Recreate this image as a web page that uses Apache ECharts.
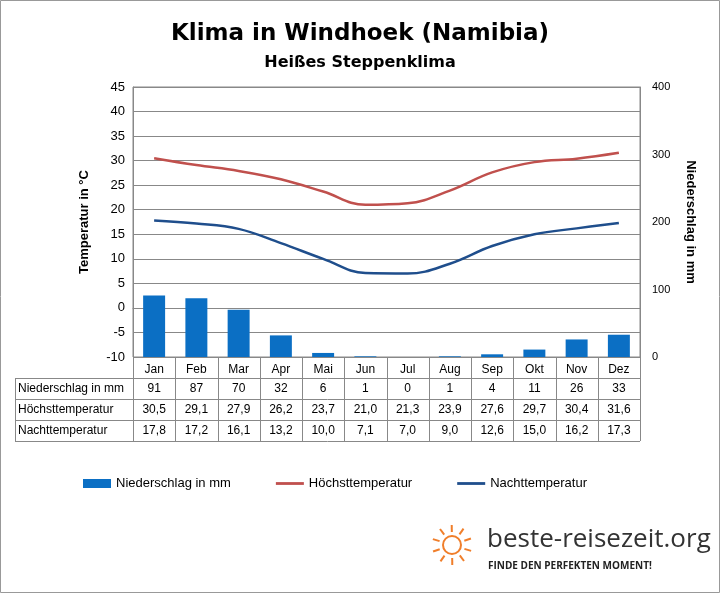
<!DOCTYPE html>
<html><head><meta charset="utf-8">
<script src="https://cdn.jsdelivr.net/npm/echarts@6/dist/echarts.min.js"></script>
<style>html,body{margin:0;padding:0;background:#fff}#c{width:720px;height:593px}</style>
</head><body><div id="c"></div>
<script>
const months=['Jan','Feb','Mar','Apr','Mai','Jun','Jul','Aug','Sep','Okt','Nov','Dez'];
const rain=[91,87,70,32,6,1,0,1,4,11,26,33];
const tmax=[30.5,29.1,27.9,26.2,23.7,21.0,21.3,23.9,27.6,29.7,30.4,31.6];
const tmin=[17.8,17.2,16.1,13.2,10.0,7.1,7.0,9.0,12.6,15.0,16.2,17.3];
const rowNames=['Niederschlag in mm','Höchsttemperatur','Nachttemperatur'];
const C_BAR='#0b6fc4',C_MAX='#c0504d',C_MIN='#1f4e8c';
const X0=133,X1=640,Y0=87,Y1=357;
const cw=(X1-X0)/12;
const g=[];
g.push({type:'rect',shape:{x:0.5,y:0.5,width:719,height:592},style:{fill:'none',stroke:'#999'}});
const rowsY=[378,399,420,441];
const rows=[rain.map(String),tmax.map(v=>v.toFixed(1).replace('.',',')),tmin.map(v=>v.toFixed(1).replace('.',','))];
rowsY.forEach(y=>g.push({type:'line',shape:{x1:15,y1:y+.5,x2:X1,y2:y+.5},style:{stroke:'#888'}}));
g.push({type:'line',shape:{x1:15.5,y1:378,x2:15.5,y2:441},style:{stroke:'#888'}});
for(let i=0;i<=12;i++){const x=Math.round(X0+i*cw)+.5;g.push({type:'line',shape:{x1:x,y1:357,x2:x,y2:441},style:{stroke:'#888'}});}
rows.forEach((r,ri)=>{
 const yc=(rowsY[ri]+rowsY[ri+1])/2;
 g.push({type:'text',x:18,y:yc,style:{text:rowNames[ri],fill:'#000',font:'12px "Liberation Sans", Arial',textVerticalAlign:'middle'}});
 r.forEach((t,i)=>g.push({type:'text',x:X0+(i+.5)*cw,y:yc,style:{text:t,fill:'#000',font:'12px "Liberation Sans", Arial',textAlign:'center',textVerticalAlign:'middle'}}));
});
const sx=452,sy=545;
g.push({type:'circle',shape:{cx:sx,cy:sy,r:9},style:{fill:'none',stroke:'#f07e2a',lineWidth:2}});
for(let k=0;k<10;k++){const a=k*Math.PI/5+0.3;g.push({type:'line',shape:{x1:sx+Math.cos(a)*13,y1:sy+Math.sin(a)*13,x2:sx+Math.cos(a)*20,y2:sy+Math.sin(a)*20},style:{stroke:'#f07e2a',lineWidth:2}});}
g.push({type:'text',x:487,y:540,style:{text:'beste-reisezeit.org',fill:'#333',font:'26px "Open Sans", sans-serif',textVerticalAlign:'middle'}});
g.push({type:'text',x:488,y:566,style:{text:'FINDE DEN PERFEKTEN MOMENT!',fill:'#222',font:'bold 10px "Open Sans", sans-serif',textVerticalAlign:'middle'}});
const lineIcon='path://M0,0 H30 V3 H0 Z';
const chart=echarts.init(document.getElementById('c'));
chart.setOption({
 animation:false,
 title:[{text:'Klima in Windhoek (Namibia)',left:'center',top:18,textStyle:{fontSize:23,fontWeight:'bold',color:'#000',fontFamily:'DejaVu Sans'}},
        {text:'Heißes Steppenklima',left:'center',top:50,textStyle:{fontSize:16,fontWeight:'bold',color:'#000',fontFamily:'DejaVu Sans'}}],
 grid:{left:X0,right:720-X1,top:Y0,bottom:593-Y1,show:true,borderColor:'#888',borderWidth:1},
 legend:{top:472,left:78,itemGap:45,textStyle:{fontSize:13,color:'#000',fontFamily:'Liberation Sans'},
   data:[{name:'Niederschlag in mm',icon:'rect'},{name:'Höchsttemperatur',icon:lineIcon},{name:'Nachttemperatur',icon:lineIcon}],itemWidth:28,itemHeight:9},
 xAxis:{type:'category',data:months,axisTick:{show:false},axisLine:{lineStyle:{color:'#888'}},axisLabel:{color:'#000',fontSize:12,margin:7}},
 yAxis:[{type:'value',min:-10,max:45,interval:5,name:'Temperatur in °C',nameLocation:'middle',nameGap:42,nameTextStyle:{fontWeight:'bold',fontSize:13,color:'#000'},
   axisLabel:{color:'#000',fontSize:13},axisLine:{show:true,lineStyle:{color:'#888'}},splitLine:{lineStyle:{color:'#888'}}},
  {type:'value',min:0,max:400,interval:100,name:'Niederschlag in mm',nameLocation:'middle',nameGap:44,nameRotate:-90,nameTextStyle:{fontWeight:'bold',fontSize:13,color:'#000'},
   axisLabel:{color:'#000',fontSize:11,margin:12},axisLine:{show:true,lineStyle:{color:'#888'}},splitLine:{show:false}}],
 series:[
  {name:'Niederschlag in mm',type:'bar',yAxisIndex:1,data:rain,barWidth:'52%',itemStyle:{color:C_BAR}},
  {name:'Höchsttemperatur',type:'line',data:tmax,smooth:0.4,showSymbol:false,lineStyle:{color:C_MAX,width:2.5},itemStyle:{color:C_MAX}},
  {name:'Nachttemperatur',type:'line',data:tmin,smooth:0.4,showSymbol:false,lineStyle:{color:C_MIN,width:2.5},itemStyle:{color:C_MIN}}
 ],
 graphic:g
});
</script></body></html>
